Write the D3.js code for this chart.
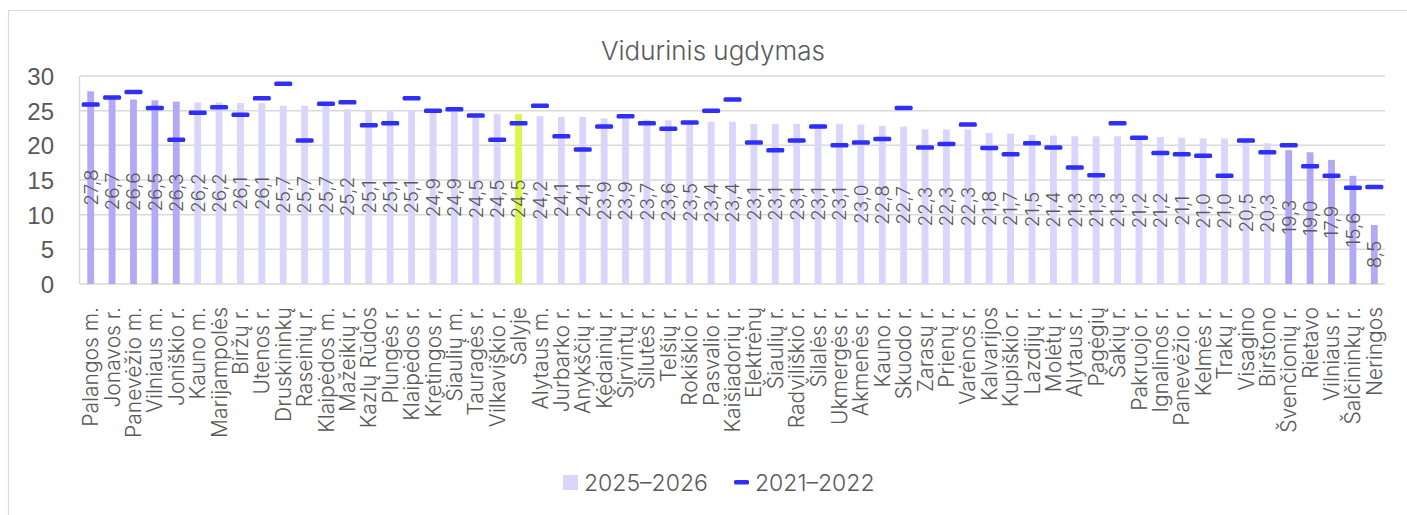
<!DOCTYPE html>
<html lang="lt">
<head>
  <meta charset="utf-8">
  <title>Vidurinis ugdymas</title>
  <style>
    html,body { margin:0; padding:0; background:#fff; overflow:hidden; }
    svg { display:block; font-family:Inter, "Liberation Sans", Arial, sans-serif; font-weight:300; }
    .grid line { stroke:#d9d9d9; stroke-width:1.5px; }
    text { fill:#595959; }
  </style>
  <script src="https://d3js.org/d3.v7.min.js"></script>
</head>
<body>
<svg width="1407" height="515"></svg>
<script>
  // ---- data ---------------------------------------------------------
  const categories = [
    "Palangos m.","Jonavos r.","Panevėžio m.","Vilniaus m.","Joniškio r.",
    "Kauno m.","Marijampolės","Biržų r.","Utenos r.","Druskininkų",
    "Raseinių r.","Klaipėdos m.","Mažeikių r.","Kazlų Rūdos","Plungės r.",
    "Klaipėdos r.","Kretingos r.","Šiaulių m.","Tauragės r.","Vilkaviškio r.",
    "Šalyje","Alytaus m.","Jurbarko r.","Anykščių r.","Kėdainių r.",
    "Širvintų r.","Šilutės r.","Telšių r.","Rokiškio r.","Pasvalio r.",
    "Kaišiadorių r.","Elektrėnų","Šiaulių r.","Radviliškio r.","Šilalės r.",
    "Ukmergės r.","Akmenės r.","Kauno r.","Skuodo r.","Zarasų r.",
    "Prienų r.","Varėnos r.","Kalvarijos","Kupiškio r.","Lazdijų r.",
    "Molėtų r.","Alytaus r.","Pagėgių","Šakių r.","Pakruojo r.",
    "Ignalinos r.","Panevėžio r.","Kelmės r.","Trakų r.","Visagino",
    "Birštono","Švenčionių r.","Rietavo","Vilniaus r.","Šalčininkų r.",
    "Neringos"
  ];

  // 2025–2026 (bars)
  const values2025 = [
    27.8,26.7,26.6,26.5,26.3, 26.2,26.2,26.1,26.1,25.7,
    25.7,25.7,25.2,25.1,25.1, 25.1,24.9,24.9,24.5,24.5,
    24.5,24.2,24.1,24.1,23.9, 23.9,23.7,23.6,23.5,23.4,
    23.4,23.1,23.1,23.1,23.1, 23.1,23.0,22.8,22.7,22.3,
    22.3,22.3,21.8,21.7,21.5, 21.4,21.3,21.3,21.3,21.2,
    21.2,21.1,21.0,21.0,20.5, 20.3,19.3,19.0,17.9,15.6,
    8.5
  ];

  // 2021–2022 (markers)
  const values2021 = [
    25.9,26.9,27.7,25.4,20.8, 24.7,25.5,24.4,26.8,28.9,
    20.7,26.0,26.2,22.9,23.2, 26.8,25.0,25.2,24.3,20.8,
    23.2,25.7,21.3,19.4,22.7, 24.2,23.2,22.4,23.3,25.0,
    26.6,20.4,19.3,20.7,22.7, 20.0,20.4,20.9,25.4,19.7,
    20.2,23.0,19.6,18.7,20.3, 19.7,16.8,15.7,23.2,21.1,
    18.9,18.7,18.5,15.6,20.7, 19.0,20.0,17.0,15.6,13.9,
    14.0
  ];

  const yTicks = [0,5,10,15,20,25,30];
  const seriesNames = ["2025–2026","2021–2022"];
  const nationalLabel = "Šalyje";

  // ---- layout -------------------------------------------------------
  const svg = d3.select("svg");
  const plot = { left:80, right:1385, top:76, bottom:284 };

  const x = d3.scaleBand().domain(categories).range([plot.left, plot.right]).paddingInner(0.68).paddingOuter(0.34);
  const y = d3.scaleLinear().domain([0,30]).range([plot.bottom, plot.top]);

  const n = categories.length;
  const barColor = (d, i) =>
    d === nationalLabel ? "#dbf64b" : (i < 5 || i >= n - 5) ? "#b4a9f5" : "#dad5fb";
  const fmt = v => d3.format(".1f")(v).replace(".", ",");

  // outer frame
  svg.append("path")
    .attr("d", "M8.5,515 V10.5 H1407")
    .attr("fill","none").attr("stroke","#d9d9d9").attr("stroke-width",1.2);

  // title
  svg.append("text")
    .attr("x", 713).attr("y", 60)
    .attr("text-anchor","middle")
    .attr("font-size", 26)
    .text("Vidurinis ugdymas");

  // gridlines
  svg.append("g").attr("class","grid")
    .selectAll("line").data(yTicks).join("line")
      .attr("x1", plot.left).attr("x2", plot.right)
      .attr("y1", d => y(d)).attr("y2", d => y(d));
  svg.append("line")
    .attr("x1", plot.left - 0.5).attr("x2", plot.left - 0.5)
    .attr("y1", plot.top).attr("y2", plot.bottom)
    .attr("stroke","#d9d9d9").attr("stroke-width",1.5);

  // y axis (labels only)
  const yAxis = svg.append("g")
    .attr("transform", `translate(${plot.left - 26},0)`)
    .call(d3.axisLeft(y).tickValues(yTicks).tickSize(0).tickPadding(0));
  yAxis.select(".domain").remove();
  yAxis.selectAll("text").attr("font-size", 24).attr("font-family", null).attr("fill","#595959").attr("dy","0.36em");

  // bars
  svg.append("g").selectAll("rect").data(values2025).join("rect")
    .attr("x", (d, i) => x(categories[i]))
    .attr("width", x.bandwidth())
    .attr("y", d => y(d))
    .attr("height", d => y(0) - y(d))
    .attr("fill", (d, i) => barColor(categories[i], i));

  // value labels, rotated, centred in bar
  svg.append("g").selectAll("text").data(values2025).join("text")
    .attr("transform", (d, i) =>
      `translate(${x(categories[i]) + x.bandwidth()/2},${(y(d) + y(0))/2}) rotate(-90)`)
    .attr("text-anchor","middle")
    .attr("dy","0.36em")
    .attr("font-size", 19)
    .text(d => fmt(d));

  // 2021–2022 markers
  const mw = 18, mh = 4.5;
  svg.append("g").selectAll("rect").data(values2021).join("rect")
    .attr("x", (d, i) => x(categories[i]) + x.bandwidth()/2 - mw/2)
    .attr("y", d => y(d) - mh/2)
    .attr("width", mw).attr("height", mh)
    .attr("rx", 1.5)
    .attr("fill", "#2f2ff7");

  // category labels
  svg.append("g").selectAll("text").data(categories).join("text")
    .attr("transform", d => `translate(${x(d) + x.bandwidth()/2},${plot.bottom + 23}) rotate(-90)`)
    .attr("text-anchor","end")
    .attr("dy","0.36em")
    .attr("font-size", 21)
    .text(d => d);

  // legend
  const lg = svg.append("g");
  lg.append("rect").attr("x", 563).attr("y", 475).attr("width", 15).attr("height", 15).attr("fill", "#dad5fb");
  lg.append("text").attr("x", 584).attr("y", 491).attr("font-size", 23).text(seriesNames[0]);
  lg.append("rect").attr("x", 734).attr("y", 480).attr("width", 15).attr("height", 4.5).attr("rx", 1.5).attr("fill", "#2f2ff7");
  lg.append("text").attr("x", 755).attr("y", 491).attr("font-size", 23).text(seriesNames[1]);
</script>
</body>
</html>
